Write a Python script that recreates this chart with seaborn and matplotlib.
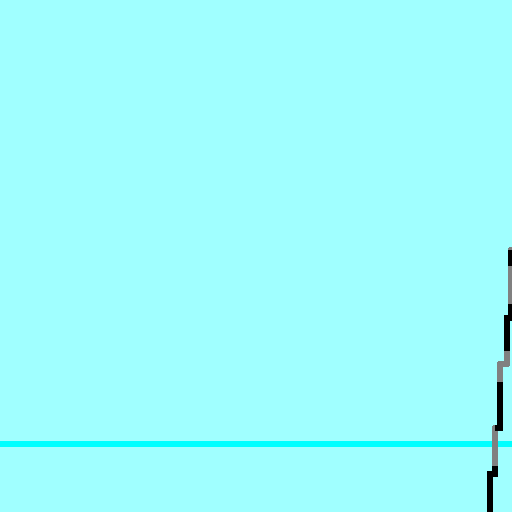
import numpy as np
import pandas as pd
import matplotlib
matplotlib.use('Agg')
import matplotlib.pyplot as plt
import seaborn as sns

# stepped trace near the right edge (x, height from bottom)
trace_x = [489.5, 489.5, 494.5, 494.5, 500.0, 500.0, 506.5, 506.5, 511.0, 511.0]
trace_y = [0.0, 38.0, 38.0, 84.0, 84.0, 148.0, 148.0, 194.0, 194.0, 262.0]
# reference level
level = 68.0

df = pd.DataFrame({'x': trace_x, 'y': trace_y})

sns.set_theme(style='white')
fig = plt.figure(figsize=(5.12, 5.12), dpi=100)
fig.patch.set_facecolor('#a0ffff')
ax = fig.add_axes([0, 0, 1, 1])
ax.set_facecolor('#a0ffff')

ax.axhline(level, color='#00ffff', lw=4.3, antialiased=False)
sns.lineplot(data=df, x='x', y='y', sort=False, estimator=None, ax=ax,
             color='#808080', lw=4.0, antialiased=False)
sns.lineplot(data=df, x='x', y='y', sort=False, estimator=None, ax=ax,
             color='black', lw=4.0, antialiased=False)
ax.lines[-1].set_dashes([9, 7])

ax.set_xlim(0, 512)
ax.set_ylim(0, 512)
ax.axis('off')

fig.savefig('out.png', dpi=100, facecolor=fig.get_facecolor())
